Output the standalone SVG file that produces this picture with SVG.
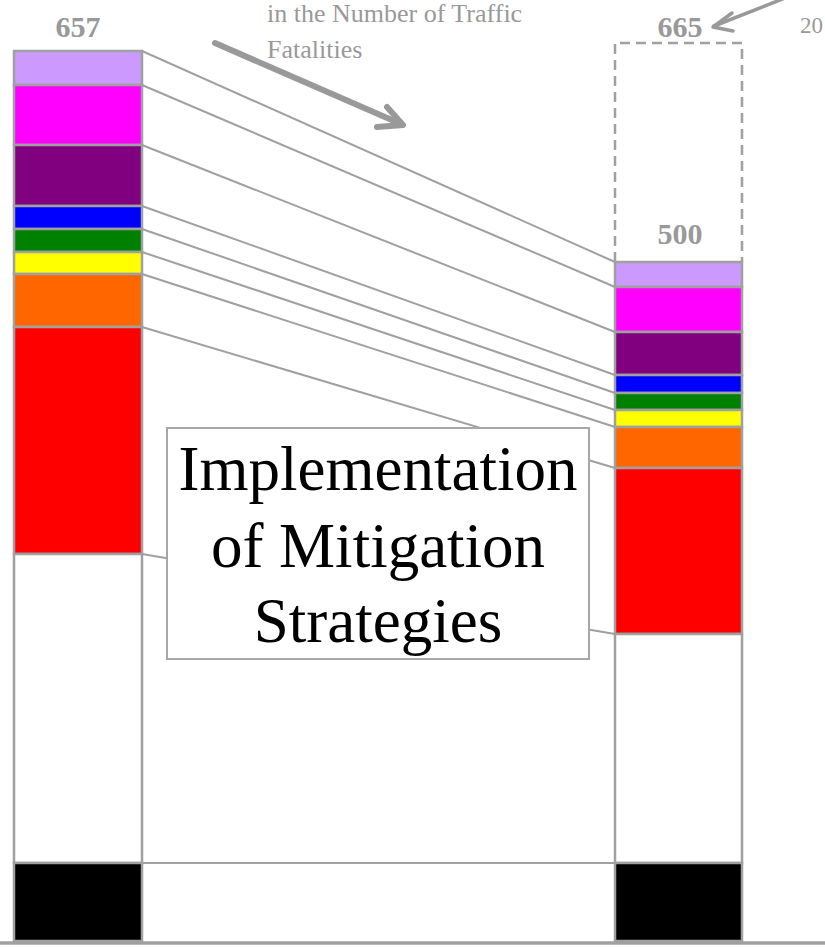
<svg xmlns="http://www.w3.org/2000/svg" width="825" height="947" viewBox="0 0 825 947">
<style>
.seg{stroke:#A0A0A0;stroke-width:2.5}
.con{stroke:#A0A0A0;stroke-width:2;fill:none}
.lbl{font-family:"Liberation Serif","Times New Roman",serif;fill:#999999}
.num{font-family:"Liberation Serif","Times New Roman",serif;fill:#999999;font-weight:bold;font-size:30px;text-anchor:middle}
</style>
<rect width="825" height="947" fill="#ffffff"/>
<g id="connectors">
<line class="con" x1="142" y1="51" x2="615" y2="262"/>
<line class="con" x1="142" y1="85" x2="615" y2="287"/>
<line class="con" x1="142" y1="145" x2="615" y2="332"/>
<line class="con" x1="142" y1="206" x2="615" y2="375"/>
<line class="con" x1="142" y1="229" x2="615" y2="393"/>
<line class="con" x1="142" y1="252" x2="615" y2="410"/>
<line class="con" x1="142" y1="274" x2="615" y2="427"/>
<line class="con" x1="142" y1="327" x2="615" y2="468"/>
<line class="con" x1="142" y1="554" x2="615" y2="634"/>
<line class="con" x1="142" y1="863" x2="615" y2="863"/>
</g>
<g id="left-bar">
<rect class="seg" x="14" y="51" width="128" height="34" fill="#CC99FF"/>
<rect class="seg" x="14" y="85" width="128" height="60" fill="#FF00FF"/>
<rect class="seg" x="14" y="145" width="128" height="61" fill="#800080"/>
<rect class="seg" x="14" y="206" width="128" height="23" fill="#0000FF"/>
<rect class="seg" x="14" y="229" width="128" height="23" fill="#008000"/>
<rect class="seg" x="14" y="252" width="128" height="22" fill="#FFFF00"/>
<rect class="seg" x="14" y="274" width="128" height="53" fill="#FF6600"/>
<rect class="seg" x="14" y="327" width="128" height="227" fill="#FF0000"/>
<rect class="seg" x="14" y="554" width="128" height="309" fill="#FFFFFF"/>
<rect class="seg" x="14" y="863" width="128" height="78" fill="#000000"/>
</g>
<g id="right-target">
<path d="M615,262 V43 H742 V262" fill="none" stroke="#A0A0A0" stroke-width="2.5" stroke-dasharray="10,6"/>
</g>
<g id="right-bar">
<rect class="seg" x="615" y="262" width="127" height="25" fill="#CC99FF"/>
<rect class="seg" x="615" y="287" width="127" height="45" fill="#FF00FF"/>
<rect class="seg" x="615" y="332" width="127" height="43" fill="#800080"/>
<rect class="seg" x="615" y="375" width="127" height="18" fill="#0000FF"/>
<rect class="seg" x="615" y="393" width="127" height="17" fill="#008000"/>
<rect class="seg" x="615" y="410" width="127" height="17" fill="#FFFF00"/>
<rect class="seg" x="615" y="427" width="127" height="41" fill="#FF6600"/>
<rect class="seg" x="615" y="468" width="127" height="166" fill="#FF0000"/>
<rect class="seg" x="615" y="634" width="127" height="229" fill="#FFFFFF"/>
<rect class="seg" x="615" y="863" width="127" height="78" fill="#000000"/>
</g>
<g id="axis">
<line x1="0" y1="943" x2="825" y2="943" stroke="#A0A0A0" stroke-width="3.5"/>
</g>
<g id="labels">
<text class="num" x="78" y="37">657</text>
<text class="num" x="680" y="37">665</text>
<text class="num" x="680" y="244">500</text>
</g>
<g id="annotation">
<text class="lbl" x="267" y="22" font-size="26">in the Number of Traffic</text>
<text class="lbl" x="267" y="58" font-size="26">Fatalities</text>
<g fill="none" stroke="#999999" stroke-width="6" stroke-linecap="round" stroke-linejoin="round">
<line x1="215" y1="43" x2="401" y2="124"/>
<polyline points="387,107 403,125 377,127"/>
</g>
</g>
<g id="target-note">
<text class="lbl" x="800" y="33" font-size="23">20</text>
<g fill="none" stroke="#999999" stroke-width="3.5" stroke-linecap="round" stroke-linejoin="round">
<line x1="785" y1="-2" x2="714" y2="26"/>
<polyline points="732,13 713,27 733,31"/>
</g>
</g>
<g id="mitigation-box">
<rect x="167" y="428" width="422" height="231" fill="#FFFFFF" stroke="#A6A6A6" stroke-width="2"/>
<text font-family="'Liberation Serif','Times New Roman',serif" font-size="63" fill="#000000" text-anchor="middle"><tspan x="378" y="490">Implementation</tspan><tspan x="378" y="567">of Mitigation</tspan><tspan x="378" y="642">Strategies</tspan></text>
</g>
</svg>
